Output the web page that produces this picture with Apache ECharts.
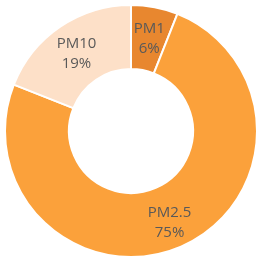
<!DOCTYPE html>
<html>
<head>
<meta charset="utf-8">
<script src="https://cdn.jsdelivr.net/npm/echarts@6/dist/echarts.min.js"></script>
<style>html,body{margin:0;padding:0;background:#fff;}#c{width:262px;height:266px;}</style>
</head>
<body>
<div id="c"></div>
<script>
const categories = ['PM1', 'PM2.5', 'PM10'];
const values = [6, 75, 19];
const colors = ['#E8872F', '#FBA13B', '#FDE0C8'];

const chart = echarts.init(document.getElementById('c'), null, {renderer: 'canvas'});
chart.setOption({
  animation: false,
  series: [{
    type: 'pie',
    center: [131, 131],
    radius: [62, 126],
    startAngle: 90,
    clockwise: true,
    data: categories.map((n, i) => ({name: n, value: values[i], itemStyle: {color: colors[i]}})),
    itemStyle: {borderColor: '#ffffff', borderWidth: 2},
    label: {
      show: true,
      position: 'inside',
      formatter: p => p.name + '\n' + Math.round(p.percent) + '%',
      color: '#595959',
      fontSize: 15,
      lineHeight: 20,
      fontFamily: 'Open Sans',
      offset: [0, 3]
    },
    labelLine: {show: false},
    emphasis: {disabled: true}
  }]
});
</script>
</body>
</html>
